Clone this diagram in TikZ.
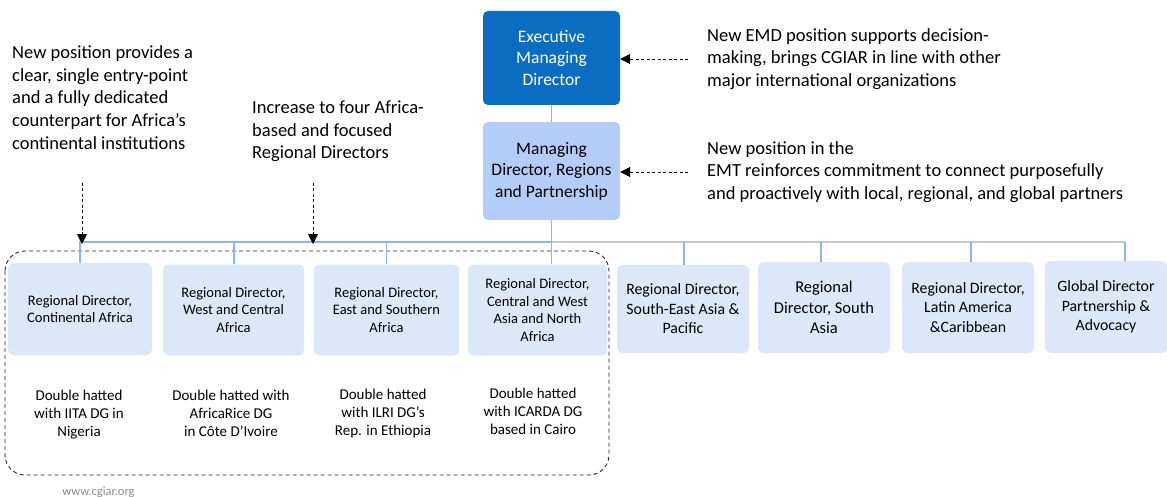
\documentclass[tikz,border=0pt]{standalone}
\usepackage{fontspec}
\setmainfont{Carlito}
\usepackage{tikz}
\usetikzlibrary{arrows.meta,positioning}

\definecolor{emdblue}{HTML}{0B6DC1}
\definecolor{mdblue}{HTML}{B4CDF8}
\definecolor{rdblue}{HTML}{DCE7F9}
\definecolor{linkblue}{HTML}{8CB4F5}
\definecolor{busgrey}{HTML}{C8C8C8}

\tikzset{
  topbox/.style={rounded corners=5pt, align=center, inner sep=2pt,
    font=\fontsize{17.5}{21.5}\selectfont},
  rdbox/.style={fill=rdblue, rounded corners=6pt, align=center, inner sep=2pt,
    font=\fontsize{14.5}{17.5}\selectfont},
  rdboxbig/.style={rdbox, font=\fontsize{15.8}{19.5}\selectfont},
  notetext/.style={align=left, inner sep=0pt, font=\fontsize{18.5}{22.6}\selectfont},
  hattext/.style={align=center, inner sep=0pt, font=\fontsize{15}{18}\selectfont},
  link/.style={draw=linkblue, line width=1.3pt},
  hint/.style={draw=black, line width=0.9pt, dash pattern=on 3pt off 2.5pt,
    -{Triangle[length=10pt, width=10pt]}},
}

\begin{document}
\begin{tikzpicture}[x=1pt, y=-1pt]
\useasboundingbox (0,0) rectangle (1167,497);

% management boxes
\node[topbox, fill=emdblue, text=white, minimum width=137pt, minimum height=94pt]
  (emd) at (551.5,58) {Executive\\Managing\\Director};
\node[topbox, fill=mdblue, minimum width=137pt, minimum height=98pt]
  (md) at (551.5,171) {Managing\\Director, Regions\\and Partnership};

% regional directors
\node[rdbox, minimum width=144pt, minimum height=92pt] (rca) at (80,309)
  {Regional Director,\\Continental Africa};
\node[rdbox, minimum width=141pt, minimum height=91pt] (rwca) at (233.5,310)
  {Regional Director,\\West and Central\\Africa};
\node[rdbox, minimum width=145pt, minimum height=91pt] (resa) at (386.5,310)
  {Regional Director,\\East and Southern\\Africa};
\node[rdbox, minimum width=139pt, minimum height=91pt] (rcwa) at (537.5,310)
  {Regional Director,\\Central and West\\Asia and North\\Africa};
\node[rdboxbig, minimum width=132pt, minimum height=88pt] (rsea) at (683,309)
  {Regional Director,\\South-East Asia \&\\Pacific};
\node[rdboxbig, font=\fontsize{16.5}{20.5}\selectfont, minimum width=132pt, minimum height=91pt]
  (rsa) at (824,307.5) {Regional\\Director, South\\Asia};
\node[rdboxbig, minimum width=132pt, minimum height=91pt] (rlac) at (968,307.5)
  {Regional Director,\\Latin America\\\&Caribbean};
\node[rdboxbig, minimum width=122pt, minimum height=92pt] (gdpa) at (1106,307)
  {Global Director\\Partnership \&\\Advocacy};

% double hatted notes
\node[hattext] (h1) at (79,415) {Double hatted\\with IITA DG in\\Nigeria};
\node[hattext] (h2) at (231,413) {Double hatted with\\AfricaRice DG\\in C\^{o}te D'Ivoire};
\node[hattext] (h3) at (383,413) {Double hatted\\with ILRI DG's\\Rep. in Ethiopia};
\node[hattext] (h4) at (533,411) {Double hatted\\with ICARDA DG\\based in Cairo};

% africa group
\draw[draw=black!85, line width=0.9pt, dash pattern=on 4pt off 3pt, rounded corners=20pt]
  (5,251) rectangle (609,475);

% connectors
\coordinate (bus) at (551,242);
\coordinate (busend) at (1125,242);
\draw[link] (emd) -- (md);
\draw[draw=busgrey, line width=1.3pt] (bus) -- (busend);
\draw[link] (md.south) -- (md.south |- rcwa.north);
\draw[link] (bus) -| (rca.north);
\draw[link] (bus) -| ([xshift=0.5pt]rwca.north);
\draw[link] (bus) -| (resa.north);
\draw[link] ([xshift=1pt]rsea.north) -- ([xshift=1pt]rsea.north |- bus);
\draw[link] ([xshift=-3pt]rsa.north) -- ([xshift=-3pt]rsa.north |- bus);
\draw[link] ([xshift=3pt]rlac.north) -- ([xshift=3pt]rlac.north |- bus);
\draw[link] (busend) -- (busend |- gdpa.north);

% annotations
\node[notetext, anchor=west] (emdnote) at (707,59)
  {New EMD position supports decision-\\making, brings CGIAR in line with other\\major international organizations};
\node[notetext, anchor=west] (mdnote) at (707,172)
  {New position in the\\EMT reinforces commitment to connect purposefully\\and proactively with local, regional, and global partners};
\node[notetext, anchor=west] (canote) at (12,97.5)
  {New position provides a\\clear, single entry-point\\and a fully dedicated\\counterpart for Africa's\\continental institutions};
\node[notetext, anchor=west] (rdnote) at (252,131.5)
  {Increase to four Africa-\\based and focused\\Regional Directors};

\draw[hint] ([xshift=-19pt]emdnote.west) -- (emdnote.west -| emd.east);
\draw[hint] ([xshift=-19pt]mdnote.west) -- (mdnote.west -| md.east);
\coordinate (catip) at (82,183);
\coordinate (rdtip) at (313,183);
\draw[hint] (catip) -- ([yshift=-2pt]catip |- bus);
\draw[hint] (rdtip) -- ([yshift=-2pt]rdtip |- bus);

\node[text=black!45, inner sep=0pt, font=\fontsize{12.5}{14}\selectfont] (site) at (98.5,492) {www.cgiar.org};
\end{tikzpicture}
\end{document}
